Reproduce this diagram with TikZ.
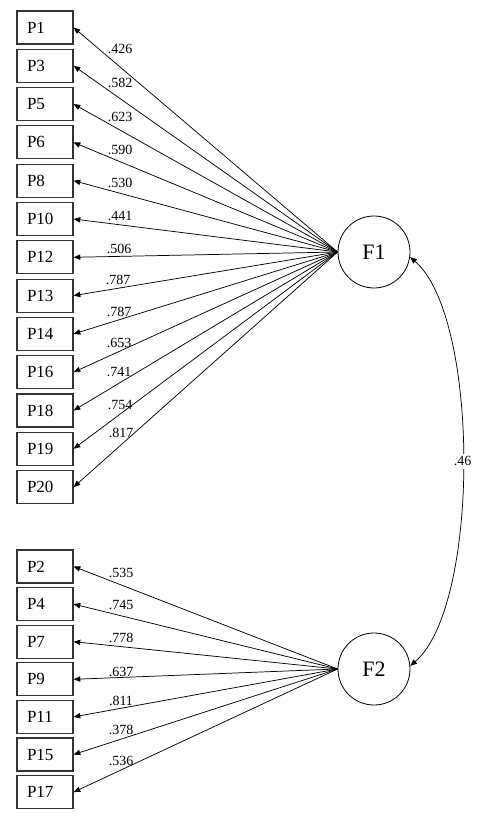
\documentclass[tikz,border=0pt]{standalone}
\usepackage{fontspec}
\setmainfont{Liberation Serif}
\usetikzlibrary{arrows.meta}
\begin{document}
\begin{tikzpicture}[x=0.75pt,y=-0.75pt,
  obs/.style={draw=black!80, line width=0.9pt, minimum height=24.75pt, text width=27pt,
    inner xsep=7.5pt, inner ysep=0pt, align=left, font=\fontsize{12.75}{14}\selectfont},
  lat/.style={draw, circle, minimum size=54pt, inner sep=0pt, line width=0.6pt,
    font=\fontsize{16.5}{18}\selectfont},
  tip/.tip={Triangle[length=5pt,width=4pt]},
  load/.style={-tip, line width=0.55pt},
  lbl/.style={inner sep=0pt, font=\fontsize{10.5}{12}\selectfont}]
\useasboundingbox (0,0) rectangle (493,813);

\node[lat] (F1) at (374,252) {F1};
\node[lat] (F2) at (374,669) {F2};

\foreach \n [count=\i from 0] in {1,3,5,6,8,10,12,13,14,16,18,19,20}
  \node[obs] (P\n) at (45,{27.5+38.3*\i}) {P\n};
\foreach \n [count=\i from 0] in {2,4,7,9,11,15,17}
  \node[obs] (P\n) at (45,{566.5+37.6*\i}) {P\n};

\foreach \n in {1,3,5,6,8,10,12,13,14,16,18,19,20}
  \draw[load] (F1.west) -- (P\n.east);
\foreach \n in {2,4,7,9,11,15,17}
  \draw[load] (F2.west) -- (P\n.east);

\foreach \n/\v/\x/\y in {1/.426/120/49, 3/.582/120/83, 5/.623/120/117, 6/.590/120/150,
    8/.530/120/183, 10/.441/120/216, 12/.506/119/249, 13/.787/118/280, 14/.787/119/312,
    16/.653/119/343, 18/.741/119/372, 19/.754/120/405, 20/.817/121/433,
    2/.535/121/573, 4/.745/121/605, 7/.778/121/638, 9/.637/121/672,
    11/.811/121/701, 15/.378/121/730, 17/.536/121/761}
  \node[lbl] (L\n) at (\x,\y) {\v};

\draw[tip-tip, line width=0.55pt] (F1.-8) .. controls +(70,60) and +(70,-60) .. (F2.5)
  node[pos=0.5, lbl, fill=white, inner sep=2pt] (r12) {.46};
\end{tikzpicture}
\end{document}
